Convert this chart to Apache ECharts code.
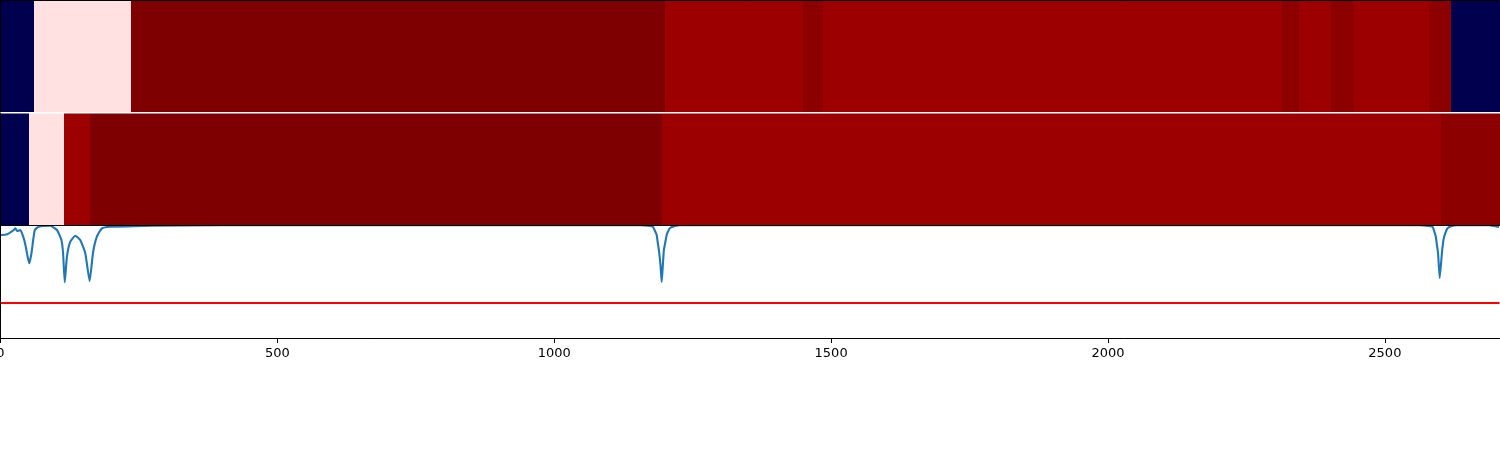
<!DOCTYPE html>
<html><head><meta charset="utf-8">
<style>html,body{margin:0;padding:0;background:#fff}#c{width:1500px;height:450px}</style>
<script src="https://cdn.jsdelivr.net/npm/echarts@6/dist/echarts.min.js"></script>
</head><body><div id="c"></div>
<script>
const xMax = 2707;
const xTicks = [0, 500, 1000, 1500, 2000, 2500];
const band1Edges = [0, 61, 236, 1200, 1449, 1485, 2315, 2345, 2403, 2444, 2580, 2620, 2707];
const band1Levels = ['navy', 'pink', 'dark', 'red', 'mid', 'red', 'mid', 'red', 'mid', 'red', 'mid', 'navy'];
const band2Edges = [0, 52, 115, 162, 1194, 2602, 2707];
const band2Levels = ['navy', 'pink', 'red', 'dark', 'red', 'mid'];
const palette = {navy: '#00004f', pink: '#ffe1e1', dark: '#7f0000', red: '#9c0000', mid: '#8c0000'};
const lineX = [0,2,12,24,27,30,36,41,45,49,52,56,59,62,69,90,102,110,113,116,120,126,135,144,153,161,167,174,183,198,240,276,400,
  1155,1173,1178,1182,1185,1187,1189,1192,1194,1196,1198,1201,1203,1205,1209,1218,1227,1400,
  2562,2586,2589,2592,2594,2596,2599,2603,2605,2607,2613,2621,2630,2688,2706];
const lineY = [103,103,103.7,108,109.7,107,108,101.3,93,81.3,74.7,85,98,108,111.3,112.3,108,98,85,55.7,81.3,96.3,102.3,98,85,57,85,101.3,109.7,111.3,111.7,112.3,112.7,
  112.7,112,111.3,107,103,95,88,72,56,72,88,97,103,106,110,112,112.7,112.7,
  112.7,111.3,107,101.3,93,85,60,85,95,101.3,109.7,112,112.7,112.7,111];
const threshold = 35;

const segs = (edges, levels) => levels.map((l, i) => [edges[i], edges[i + 1], 0, 1, l]);
const levelOf = [band1Levels, band2Levels];
const renderBand = (params, api) => {
  const a = api.coord([api.value(0), 1]);
  const b = api.coord([api.value(1), 0]);
  const x0 = Math.round(a[0]), x1 = Math.round(b[0]);
  return {type: 'rect', shape: {x: x0, y: a[1], width: x1 - x0, height: b[1] - a[1]},
    style: {fill: palette[levelOf[params.seriesIndex][params.dataIndex]]}};
};
const line = {lineStyle: {color: '#000', width: 1}};
const grids = [
  {left: 0.5, right: 0.5, top: 0.5, height: 111.5},
  {left: 0.5, right: 0.5, top: 113.5, height: 112},
  {left: 0.5, right: 0.5, top: 226, height: 112}
].map(g => ({...g, show: false, containLabel: false, outerBoundsMode: 'none'}));
const xAx = (i, pos, showLabels) => ({
  type: 'value', gridIndex: i, min: 0, max: xMax, position: pos, z: 10, interval: 500,
  splitLine: {show: false},
  axisLine: {show: true, onZero: false, ...line},
  axisTick: {show: showLabels, length: 5, ...line},
  axisLabel: {show: showLabels, color: '#000', fontFamily: 'DejaVu Sans', fontSize: 13, margin: 9,
    showMinLabel: true, showMaxLabel: false,
    formatter: v => xTicks.includes(v) ? String(v) : ''}
});
const yAx = (i, max) => ({
  type: 'value', gridIndex: i, min: 0, max, z: 10,
  splitLine: {show: false}, axisTick: {show: false}, axisLabel: {show: false},
  axisLine: {show: true, onZero: false, ...line}
});
const chart = echarts.init(document.getElementById('c'), null, {renderer: 'canvas'});
chart.setOption({
  animation: false, backgroundColor: '#fff',
  grid: grids,
  xAxis: [xAx(0, 'top', false), xAx(1, 'bottom', false), xAx(2, 'bottom', true)],
  yAxis: [yAx(0, 1), yAx(1, 1), yAx(2, 112)],
  series: [
    {type: 'custom', xAxisIndex: 0, yAxisIndex: 0, encode: {x: [0, 1], y: [2, 3]}, data: segs(band1Edges, band1Levels), renderItem: renderBand, silent: true},
    {type: 'custom', xAxisIndex: 1, yAxisIndex: 1, encode: {x: [0, 1], y: [2, 3]}, data: segs(band2Edges, band2Levels), renderItem: renderBand, silent: true},
    {type: 'line', xAxisIndex: 2, yAxisIndex: 2, data: lineX.map((x, i) => [x, lineY[i]]), showSymbol: false, smooth: 0.15, clip: true,
      lineStyle: {color: '#1f77b4', width: 2.1}, z: 3, silent: true},
    {type: 'line', xAxisIndex: 2, yAxisIndex: 2, data: [[0, threshold], [xMax, threshold]], showSymbol: false,
      lineStyle: {color: '#ff0000', width: 2}, z: 3, silent: true}
  ]
});
</script></body></html>
